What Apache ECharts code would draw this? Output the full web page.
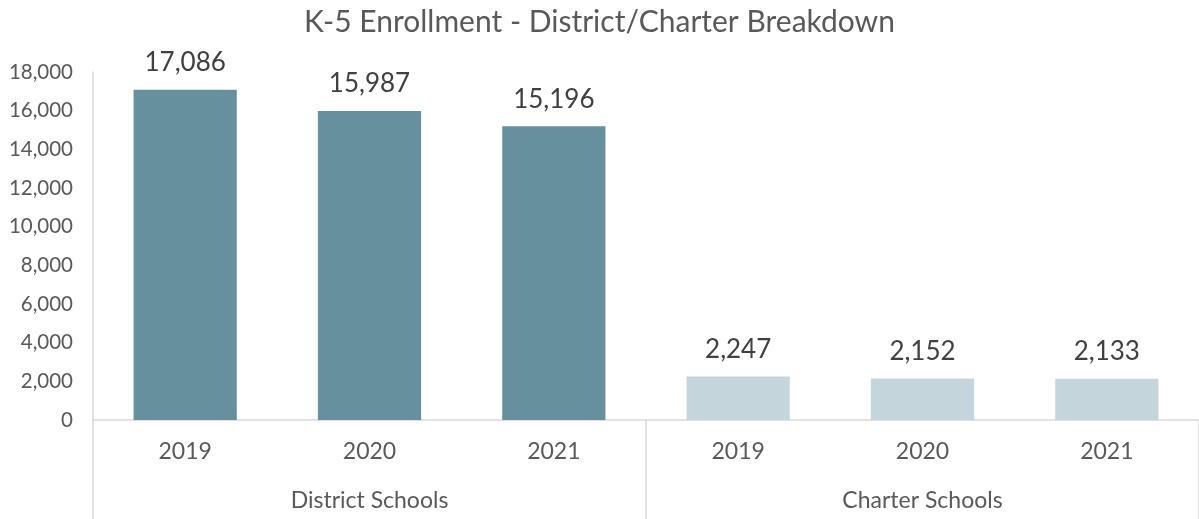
<!DOCTYPE html>
<html>
<head>
<meta charset="utf-8">
<script src="https://cdn.jsdelivr.net/npm/echarts@6/dist/echarts.min.js"></script>
<style>
  html, body { margin: 0; padding: 0; background: #fff; }
  #chart { width: 1199px; height: 519px; }
</style>
</head>
<body>
<div id="chart"></div>
<script>
var groups = ['District Schools', 'Charter Schools'];
var years = ['2019', '2020', '2021'];
var districtValues = [17086, 15987, 15196];
var charterValues = [2247, 2152, 2133];
var groupColors = ['#67909E', '#C5D5DC'];

var cats = [];
var barData = [];
[districtValues, charterValues].forEach(function (vals, g) {
    vals.forEach(function (v, i) {
        cats.push(years[i]);
        barData.push({ value: v, itemStyle: { color: groupColors[g] } });
    });
});

var font = 'Lato, "Open Sans", sans-serif';
var myChart = echarts.init(document.getElementById('chart'));

option = {
    animation: false,
    title: {
        text: 'K-5 Enrollment - District/Charter Breakdown',
        left: 'center',
        top: 2,
        textStyle: { fontFamily: font, fontSize: 30, fontWeight: 'normal', color: '#595959' }
    },
    grid: { left: 93, width: 1110, top: 72, bottom: 99 },
    xAxis: [
        {
            type: 'category',
            data: cats,
            axisLine: { lineStyle: { color: '#d9d9d9', width: 1.5 } },
            axisTick: { show: false },
            axisLabel: { margin: 20, fontFamily: font, fontSize: 23, color: '#595959' }
        },
        {
            type: 'category',
            data: groups,
            position: 'bottom',
            axisLine: { show: false },
            axisTick: { show: true, length: 100, lineStyle: { color: '#d9d9d9', width: 1.5 } },
            axisLabel: { margin: 69, fontFamily: font, fontSize: 23, color: '#595959' }
        }
    ],
    yAxis: {
        type: 'value',
        min: 0,
        max: 18000,
        interval: 2000,
        axisLine: { show: true, lineStyle: { color: '#d9d9d9', width: 1.5 } },
        splitLine: { show: false },
        axisLabel: {
            margin: 20,
            fontFamily: font, fontSize: 20.5, color: '#595959',
            formatter: function (v) { return v.toLocaleString('en-US'); }
        }
    },
    series: [
        {
            type: 'bar',
            xAxisIndex: 0,
            data: barData,
            barWidth: '56%',
            label: {
                show: true,
                position: 'top',
                distance: 14,
                fontFamily: font, fontSize: 26, color: '#404040',
                formatter: function (p) { return p.value.toLocaleString('en-US'); }
            }
        }
    ]
};

myChart.setOption(option);
</script>
</body>
</html>
